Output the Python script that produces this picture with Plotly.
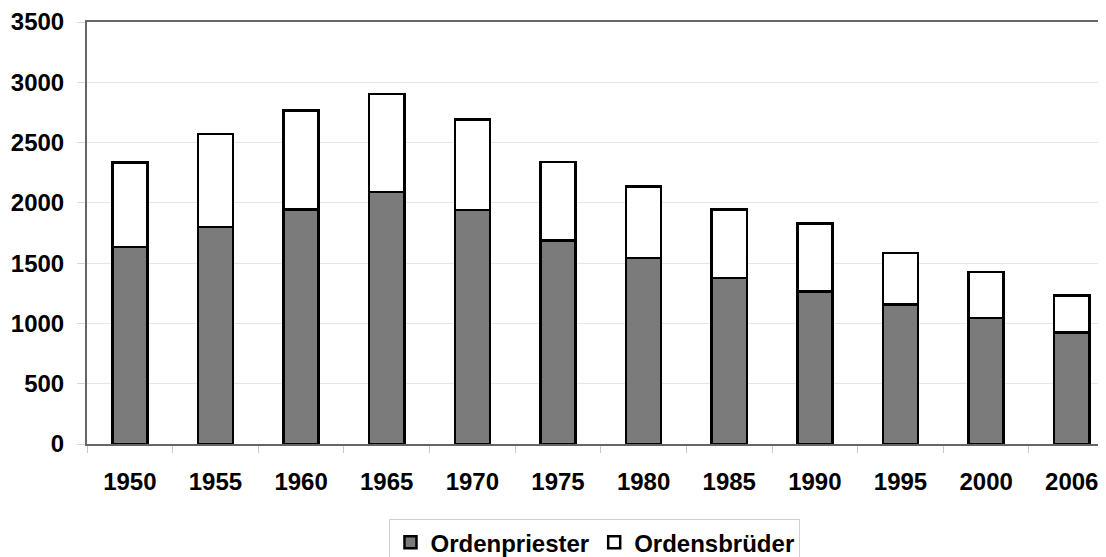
import plotly.graph_objects as go

years = ["1950", "1955", "1960", "1965", "1970", "1975", "1980", "1985", "1990", "1995", "2000", "2006"]
ordenpriester = [1634, 1800, 1946, 2090, 1940, 1689, 1543, 1375, 1264, 1159, 1046, 924]
ordensbrueder = [701, 772, 820, 811, 752, 649, 591, 571, 563, 425, 381, 307]
y_ticks = [0, 500, 1000, 1500, 2000, 2500, 3000, 3500]

FONT = "Liberation Sans, Arial, sans-serif"

fig = go.Figure()
fig.add_trace(go.Bar(
    x=years, y=ordenpriester, name="Ordenpriester",
    marker=dict(color="#7b7b7b", line=dict(color="#000000", width=2.5)),
    width=0.41,
))
fig.add_trace(go.Bar(
    x=years, y=ordensbrueder, name="Ordensbrüder",
    marker=dict(color="#ffffff", line=dict(color="#000000", width=2.5)),
    width=0.41,
))

# page body has an 8px margin, so the figure is sized to fit the window
fig.update_layout(
    barmode="stack",
    width=1098, height=549,
    margin=dict(l=79, r=0, t=14, b=113, autoexpand=False),
    paper_bgcolor="white", plot_bgcolor="white",
    font=dict(family=FONT, size=24, color="#000000"),
    showlegend=True,
    legend=dict(
        orientation="h", x=0.4985, xanchor="center", y=-0.178, yanchor="top",
        font=dict(family=FONT, size=24, color="#000000", weight="bold"),
        bordercolor="#d0d0d0", borderwidth=1, bgcolor="white",
        traceorder="normal", tracegroupgap=0,
    ),
    bargap=0.59,
)

fig.update_xaxes(
    type="category",
    range=[-0.5, 11.4],
    automargin=False,
    showline=True, linecolor="#666666", linewidth=2, mirror=True,
    ticks="outside", tickson="boundaries", ticklen=7, tickcolor="#c8c8c8", tickwidth=1,
    showgrid=False,
    tickfont=dict(family=FONT, size=24, color="#000000", weight="bold"),
    ticklabelstandoff=15,
)
fig.update_yaxes(
    range=[0, 3500],
    tickvals=y_ticks,
    automargin=False,
    showline=True, linecolor="#666666", linewidth=2,
    ticks="outside", ticklen=8, tickcolor="#d8d8d8", tickwidth=1,
    showgrid=True, gridcolor="#e6e6e6", gridwidth=1,
    zeroline=False,
    tickfont=dict(family=FONT, size=24, color="#000000", weight="bold"),
    ticklabelstandoff=8,
)

fig.write_html("out.html")
